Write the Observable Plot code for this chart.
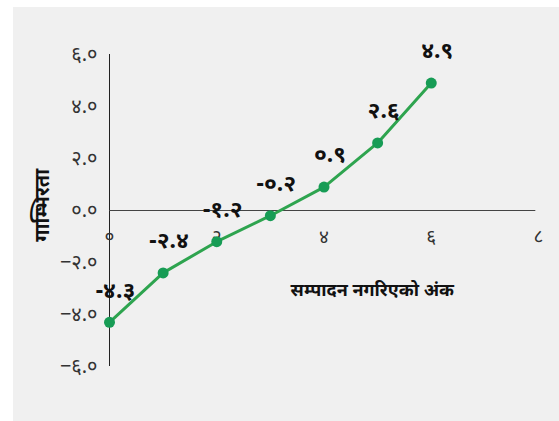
<!DOCTYPE html>
<html>
<head>
<meta charset="utf-8">
<script src="https://cdn.jsdelivr.net/npm/d3@7"></script>
<script src="https://cdn.jsdelivr.net/npm/@observablehq/plot@0.6"></script>
<style>
  html, body { margin: 0; padding: 0; background: #ffffff; }
  #chart { position: absolute; left: 13px; top: 7px; }
  #chart svg { background: #f0f0f0; font-family: "Noto Sans", sans-serif; }
</style>
</head>
<body>
<div id="chart"></div>
<script>
const xValues = [0, 1, 2, 3, 4, 5, 6];
const yValues = [-4.3, -2.4, -1.2, -0.2, 0.9, 2.6, 4.9];
const pointLabels = ["-४.३", "-२.४", "-१.२", "-०.२", "०.९", "२.६", "४.९"];
const xTicks = [0, 2, 4, 6, 8];
const xTickLabels = ["०", "२", "४", "६", "८"];
const yTicks = [-6, -4, -2, 0, 2, 4, 6];
const yTickLabels = ["−६.०", "−४.०", "−२.०", "०.०", "२.०", "४.०", "६.०"];
const xTitle = "सम्पादन नगरिएको अंक";
const yTitle = "गाम्भिरता";

const data = xValues.map((x, i) => ({x, y: yValues[i], label: pointLabels[i]}));
const xt = xTicks.map((v, i) => ({v, t: xTickLabels[i]}));
const yt = yTicks.map((v, i) => ({v, t: yTickLabels[i]}));

const chart = Plot.plot({
  width: 546,
  height: 414,
  marginLeft: 96,
  marginRight: 21,
  marginTop: 47,
  marginBottom: 55,
  x: {domain: [0, 8], axis: null},
  y: {domain: [-6, 6], axis: null},
  marks: [
    Plot.ruleX([0], {y1: -6, y2: 6, stroke: "#222", strokeWidth: 1}),
    Plot.ruleY([0], {x1: 0, x2: 7.95, stroke: "#444", strokeWidth: 1.2}),
    Plot.text(yt, {x: 0, y: "v", text: "t", textAnchor: "end", dx: -12, fontSize: 20, fill: "#333", style: "letter-spacing:1px"}),
    Plot.text(xt, {x: "v", y: 0, text: "t", dy: 26, fontSize: 19, fill: "#333"}),
    Plot.line(data, {x: "x", y: "y", stroke: "#2ea44f", strokeWidth: 3}),
    Plot.dot(data, {x: "x", y: "y", r: 5.5, fill: "#179c55"}),
    Plot.text(data, {x: "x", y: "y", text: "label", dx: 6, dy: -32, fontSize: 23, fontWeight: "bold", fill: "#111"}),
    Plot.text([xTitle], {x: 4.9, y: -3.05, text: d => d, fontSize: 18, fontWeight: "bold", fill: "#111"}),
    Plot.text([yTitle], {frameAnchor: "left", textAnchor: "middle", dx: -67, y: 0.2, text: d => d, rotate: -90, fontSize: 20, fontWeight: "bold", fill: "#111"})
  ]
});
document.getElementById("chart").appendChild(chart);
</script>
</body>
</html>
